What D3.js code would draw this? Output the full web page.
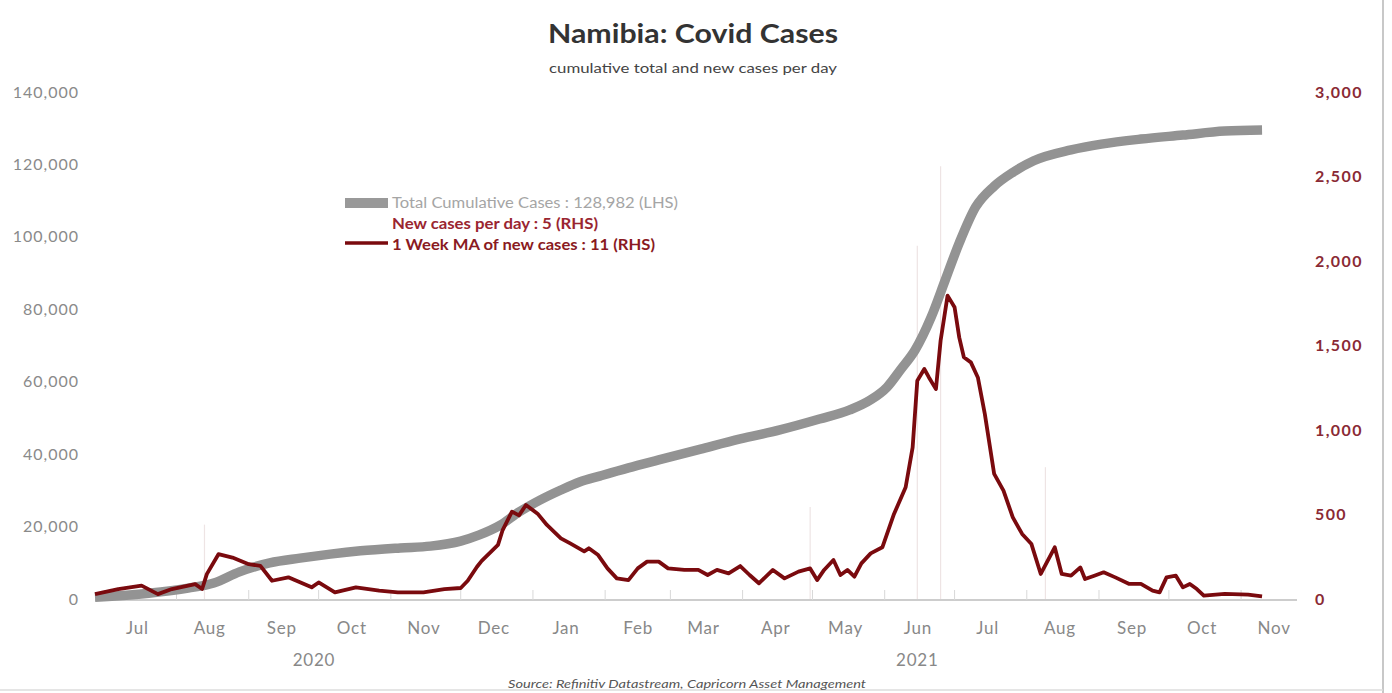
<!DOCTYPE html>
<html>
<head>
<meta charset="utf-8">
<script src="https://cdn.jsdelivr.net/npm/d3@7"></script>
<style>
  html, body { margin: 0; padding: 0; background: #fff; }
  svg { display: block; }
  text { font-family: Lato, "Open Sans", sans-serif; }
</style>
</head>
<body>
<svg id="chart" width="1392" height="693"></svg>
<script>
// ---- Data ----
const cumDates = ["2020-06-27","2020-07-20","2020-08-06","2020-08-17","2020-08-28","2020-09-10","2020-09-23","2020-10-06","2020-10-19","2020-11-05","2020-11-18","2020-12-01","2020-12-09","2020-12-18","2020-12-26","2021-01-04","2021-01-13","2021-01-21","2021-01-30","2021-02-11","2021-02-24","2021-03-14","2021-03-31","2021-04-17","2021-05-04","2021-05-17","2021-05-26","2021-06-02","2021-06-08","2021-06-14","2021-06-21","2021-06-27","2021-07-03","2021-07-10","2021-07-18","2021-07-26","2021-08-04","2021-08-20","2021-09-02","2021-09-19","2021-10-07","2021-10-25","2021-11-10"];
const cumValues = [500,1600,3000,4400,7500,10000,11300,12400,13300,14100,14600,16000,17700,20400,24000,27300,30100,32300,34000,36200,38400,41400,44200,46700,49700,52200,55000,58500,63500,68700,77900,88100,98300,108200,114000,117800,121000,124000,125600,127000,128100,129200,129500];

const maDates = ["2020-06-27","2020-07-07","2020-07-17","2020-07-24","2020-07-30","2020-08-09","2020-08-12","2020-08-14","2020-08-19","2020-08-25","2020-09-01","2020-09-06","2020-09-11","2020-09-18","2020-09-28","2020-10-01","2020-10-08","2020-10-17","2020-10-27","2020-11-04","2020-11-15","2020-11-24","2020-12-01","2020-12-04","2020-12-08","2020-12-10","2020-12-17","2020-12-19","2020-12-23","2020-12-26","2020-12-29","2021-01-03","2021-01-07","2021-01-13","2021-01-17","2021-01-23","2021-01-25","2021-01-29","2021-02-02","2021-02-06","2021-02-11","2021-02-15","2021-02-19","2021-02-24","2021-02-28","2021-03-07","2021-03-13","2021-03-17","2021-03-21","2021-03-26","2021-03-31","2021-04-04","2021-04-08","2021-04-14","2021-04-19","2021-04-25","2021-04-30","2021-05-03","2021-05-06","2021-05-10","2021-05-13","2021-05-16","2021-05-19","2021-05-22","2021-05-26","2021-05-31","2021-06-05","2021-06-10","2021-06-13","2021-06-15","2021-06-18","2021-06-20","2021-06-23","2021-06-25","2021-06-28","2021-07-01","2021-07-03","2021-07-05","2021-07-08","2021-07-11","2021-07-14","2021-07-18","2021-07-22","2021-07-26","2021-07-30","2021-08-03","2021-08-07","2021-08-13","2021-08-16","2021-08-20","2021-08-24","2021-08-26","2021-08-30","2021-09-03","2021-09-08","2021-09-14","2021-09-19","2021-09-24","2021-09-27","2021-09-30","2021-10-04","2021-10-07","2021-10-10","2021-10-13","2021-10-16","2021-10-25","2021-11-04","2021-11-10"];
const maValues = [29,59,79,29,59,88,59,147,265,245,206,196,108,128,69,98,39,69,49,39,39,59,65,108,191,226,320,408,517,495,556,505,438,359,329,282,300,260,181,122,112,181,221,221,181,172,172,142,172,152,195,142,93,172,122,162,181,112,172,231,142,172,132,211,270,306,503,661,897,1292,1361,1311,1242,1528,1795,1726,1548,1430,1400,1311,1094,740,641,483,385,325,148,306,148,138,187,118,138,158,128,89,89,49,39,128,138,69,89,59,20,30,26,16];

// visible daily new-case spikes (faint lines)
const dailyDates = ["2020-08-13","2021-04-30","2021-06-15","2021-06-25","2021-08-09"];
const dailyValues = [440,545,2090,2560,780];

const leftTicks = [0,20000,40000,60000,80000,100000,120000,140000];
const rightTicks = [0,500,1000,1500,2000,2500,3000];
const years = [{label:"2020", date:"2020-09-29"},{label:"2021", date:"2021-06-15"}];

const titleText = "Namibia: Covid Cases";
const subtitleText = "cumulative total and new cases per day";
const legendItems = ["Total Cumulative Cases : 128,982 (LHS)","New cases per day : 5 (RHS)","1 Week MA of new cases : 11 (RHS)"];
const sourceText = "Source: Refinitiv Datastream, Capricorn Asset Management";

// ---- Setup ----
const parse = d3.utcParse("%Y-%m-%d");
const svg = d3.select("#chart");
const W = 1392, H = 693;
const plot = {left: 95, right: 1297, top: 92, bottom: 599};

const x = d3.scaleUtc()
  .domain([parse("2020-06-27"), parse("2021-11-25")])
  .range([plot.left, plot.right]);
const yL = d3.scaleLinear().domain([0,140000]).range([plot.bottom, plot.top]);
const yR = d3.scaleLinear().domain([0,3000]).range([plot.bottom, plot.top]);

const cum = cumDates.map((d,i)=>({date: parse(d), v: cumValues[i]}));
const ma = maDates.map((d,i)=>({date: parse(d), v: maValues[i]}));
const daily = dailyDates.map((d,i)=>({date: parse(d), v: dailyValues[i]}));

// frame edges
svg.append("line").attr("x1",1383).attr("x2",1383).attr("y1",0).attr("y2",H)
  .attr("stroke","#c8c8c8").attr("stroke-width",2);
svg.append("line").attr("x1",0).attr("x2",1383).attr("y1",690).attr("y2",690)
  .attr("stroke","#dcdcdc").attr("stroke-width",1.5);

// Title
svg.append("text").attr("x",693).attr("y",43).attr("text-anchor","middle")
  .attr("font-size",27).attr("font-weight","bold").attr("fill","#333")
  .attr("textLength",290).attr("lengthAdjust","spacingAndGlyphs").text(titleText);
svg.append("text").attr("x",693).attr("y",73).attr("text-anchor","middle")
  .attr("font-size",13).attr("fill","#444")
  .attr("textLength",288).attr("lengthAdjust","spacingAndGlyphs").text(subtitleText);

// Left axis
const gL = svg.append("g").attr("transform",`translate(79,0)`)
  .call(d3.axisLeft(yL).tickValues(leftTicks).tickSize(0).tickPadding(0).tickFormat(d3.format(",")));
gL.select(".domain").remove();
gL.selectAll("text").attr("font-size",16).attr("letter-spacing","1px").attr("fill","#8a8a8a").attr("font-family","Lato, sans-serif");

// Right axis
const gR = svg.append("g").attr("transform",`translate(1315,0)`)
  .call(d3.axisRight(yR).tickValues(rightTicks).tickSize(0).tickPadding(0).tickFormat(d3.format(",")));
gR.select(".domain").remove();
gR.selectAll("text").attr("font-size",16).attr("letter-spacing","1.4px").attr("font-weight","bold").attr("fill","#8a2a35").attr("font-family","Lato, sans-serif");

// x axis baseline
svg.append("line").attr("x1",plot.left).attr("x2",plot.right).attr("y1",600).attr("y2",600)
  .attr("stroke","#bdbdbd").attr("stroke-width",1.5);

// month boundary ticks
const bounds = d3.utcMonth.range(parse("2020-07-01"), parse("2021-11-02"));
svg.append("g").selectAll("line").data(bounds).join("line")
  .attr("x1",d=>x(d)).attr("x2",d=>x(d)).attr("y1",590).attr("y2",600)
  .attr("stroke","#d8d8d8").attr("stroke-width",1);

// month labels at mid-month
const mids = bounds.map(d=>d3.utcDay.offset(d,14));
const gX = svg.append("g").attr("transform",`translate(0,600)`)
  .call(d3.axisBottom(x).tickValues(mids).tickSize(0).tickPadding(22).tickFormat(d3.utcFormat("%b")));
gX.select(".domain").remove();
gX.selectAll("text").attr("font-size",17).attr("letter-spacing","0.8px").attr("fill","#888").attr("font-family","Lato, sans-serif");

// year labels
svg.append("g").selectAll("text").data(years).join("text")
  .attr("x",d=>x(parse(d.date))).attr("y",666).attr("text-anchor","middle")
  .attr("font-size",17).attr("letter-spacing","0.8px").attr("fill","#888").text(d=>d.label);

// daily new cases (faint)
svg.append("g").selectAll("line").data(daily).join("line")
  .attr("x1",d=>x(d.date)).attr("x2",d=>x(d.date))
  .attr("y1",yR(0)).attr("y2",d=>yR(d.v))
  .attr("stroke","#eee4e4").attr("stroke-width",1.2);

// cumulative line
svg.append("path").datum(cum)
  .attr("d", d3.line().x(d=>x(d.date)).y(d=>yL(d.v)).curve(d3.curveMonotoneX))
  .attr("fill","none").attr("stroke","#939393").attr("stroke-width",9.5);

// MA line
svg.append("path").datum(ma)
  .attr("d", d3.line().x(d=>x(d.date)).y(d=>yR(d.v)))
  .attr("fill","none").attr("stroke","#7a0a0e").attr("stroke-width",3.8).attr("stroke-linejoin","round");

// Legend
svg.append("rect").attr("x",345).attr("y",198).attr("width",43).attr("height",10).attr("fill","#999");
svg.append("line").attr("x1",345).attr("x2",388).attr("y1",243).attr("y2",243)
  .attr("stroke","#7a0a0e").attr("stroke-width",3.5);
const legColors = ["#a5a5a5","#9a2530","#8a1a22"];
const legY = [208,229,250];
const legW = [286,206,263];
svg.append("g").selectAll("text").data(legendItems).join("text")
  .attr("x",392).attr("y",(d,i)=>legY[i]).attr("font-size",14.5)
  .attr("font-weight",(d,i)=>i===0?"normal":"bold")
  .attr("textLength",(d,i)=>legW[i]).attr("lengthAdjust","spacingAndGlyphs")
  .attr("fill",(d,i)=>legColors[i]).text(d=>d);

// Source
svg.append("text").attr("x",687).attr("y",688).attr("text-anchor","middle")
  .attr("font-size",11.5).attr("font-style","italic").attr("fill","#555")
  .attr("textLength",358).attr("lengthAdjust","spacingAndGlyphs").text(sourceText);
</script>
</body>
</html>
